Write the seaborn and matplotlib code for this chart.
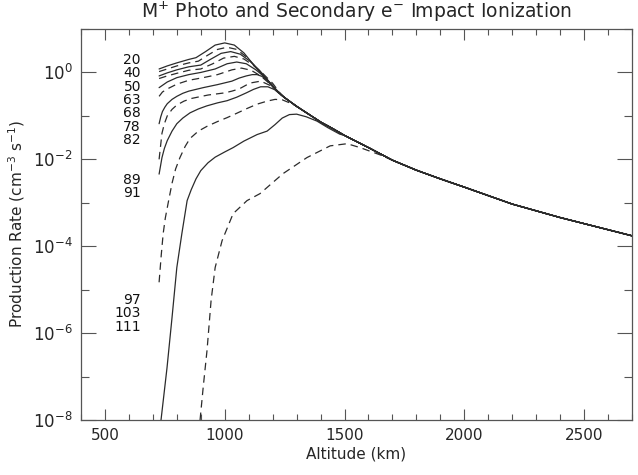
import numpy as np
import matplotlib
matplotlib.use("Agg")
import matplotlib.pyplot as plt
import matplotlib.ticker as mticker
import seaborn as sns

# ---- data (altitude in km, production rate in cm^-3 s^-1, stored as log10) ----
sza_labels = ["20", "40", "50", "63", "68", "78", "82", "89", "91", "97", "103", "111"]
styles = ["-", "--", "-", "--", "-", "--", "-", "--", "-", "--", "-", "--"]

# common high-altitude part (all curves merge)
tail_alt = [1250, 1300, 1350, 1400, 1450, 1500, 1600, 1700, 1800, 1900, 2000, 2200, 2400, 2600, 2700]
tail_log = [-0.58, -0.78, -0.96, -1.14, -1.29, -1.45, -1.73, -2.02, -2.25, -2.45, -2.64, -3.03, -3.34, -3.62, -3.76]

alt_20 = [726, 760, 800, 850, 880, 920, 960, 1000, 1040, 1080, 1120, 1160, 1200]
log_20 = [0.08, 0.15, 0.22, 0.30, 0.34, 0.48, 0.63, 0.68, 0.63, 0.45, 0.18, -0.08, -0.33]
alt_40 = [726, 760, 800, 850, 890, 930, 970, 1010, 1050, 1090, 1130, 1170, 1200]
log_40 = [0.02, 0.08, 0.15, 0.22, 0.26, 0.40, 0.53, 0.58, 0.53, 0.36, 0.12, -0.12, -0.33]
alt_50 = [726, 760, 800, 850, 900, 940, 985, 1025, 1065, 1105, 1145, 1180, 1210]
log_50 = [-0.08, -0.01, 0.06, 0.13, 0.17, 0.30, 0.44, 0.48, 0.42, 0.26, 0.05, -0.18, -0.38]
alt_63 = [726, 760, 800, 850, 900, 950, 995, 1040, 1080, 1120, 1160, 1200, 1230]
log_63 = [-0.14, -0.08, -0.02, 0.05, 0.08, 0.20, 0.33, 0.37, 0.31, 0.16, -0.03, -0.25, -0.47]
alt_68 = [726, 760, 800, 850, 900, 960, 1010, 1050, 1090, 1130, 1170, 1210, 1235]
log_68 = [-0.35, -0.22, -0.12, -0.05, 0.0, 0.08, 0.20, 0.24, 0.20, 0.06, -0.12, -0.36, -0.52]
alt_78 = [726, 740, 760, 800, 850, 910, 970, 1030, 1070, 1110, 1150, 1190, 1225]
log_78 = [-0.55, -0.45, -0.38, -0.27, -0.18, -0.12, -0.05, 0.06, 0.10, 0.05, -0.08, -0.27, -0.47]
alt_82 = [726, 733, 740, 750, 760, 780, 800, 825, 850, 910, 970, 1030, 1060, 1090, 1115, 1135, 1155, 1175, 1195, 1215]
log_82 = [-1.18, -1.02, -0.90, -0.80, -0.72, -0.62, -0.55, -0.48, -0.43, -0.35, -0.28, -0.20, -0.13, -0.08, -0.05, -0.05, -0.09, -0.17, -0.28, -0.42]
alt_89 = [726, 732, 738, 748, 760, 780, 800, 830, 860, 930, 1000, 1030, 1060, 1090, 1110, 1150, 1190, 1225]
log_89 = [-2.0, -1.7, -1.4, -1.18, -1.0, -0.85, -0.75, -0.66, -0.60, -0.52, -0.47, -0.43, -0.38, -0.29, -0.24, -0.20, -0.30, -0.47]
alt_91 = [726, 732, 738, 748, 760, 780, 800, 825, 855, 890, 925, 970, 1010, 1050, 1090, 1120, 1150, 1180, 1210, 1235]
log_91 = [-2.34, -2.15, -1.96, -1.75, -1.57, -1.35, -1.18, -1.05, -0.93, -0.84, -0.77, -0.70, -0.65, -0.57, -0.47, -0.39, -0.33, -0.33, -0.40, -0.52]
alt_97 = [726, 735, 743, 752, 764, 780, 795, 813, 835, 855, 890, 926, 970, 1010, 1050, 1093, 1135, 1177, 1210, 1240, 1280]
log_97 = [-4.83, -4.2, -3.71, -3.35, -3.0, -2.55, -2.22, -1.96, -1.70, -1.52, -1.35, -1.24, -1.13, -1.04, -0.94, -0.83, -0.73, -0.66, -0.62, -0.63, -0.72]
alt_103 = [734, 759, 780, 800, 821, 843, 860, 880, 900, 930, 960, 1000, 1035, 1080, 1135, 1177, 1210, 1240, 1270, 1300, 1340, 1385, 1430, 1480]
log_103 = [-8.0, -6.8, -5.64, -4.49, -3.71, -2.95, -2.70, -2.45, -2.26, -2.08, -1.95, -1.83, -1.73, -1.58, -1.43, -1.35, -1.20, -1.05, -0.97, -0.96, -1.02, -1.12, -1.27, -1.42]
alt_111 = [897, 910, 926, 943, 960, 989, 1035, 1093, 1147, 1243, 1343, 1440, 1511, 1565, 1650]
log_111 = [-8.0, -7.25, -6.4, -5.25, -4.49, -3.87, -3.25, -2.95, -2.79, -2.33, -1.96, -1.69, -1.64, -1.73, -1.90]

heads = [(alt_20, log_20), (alt_40, log_40), (alt_50, log_50), (alt_63, log_63),
         (alt_68, log_68), (alt_78, log_78), (alt_82, log_82), (alt_89, log_89),
         (alt_91, log_91), (alt_97, log_97), (alt_103, log_103), (alt_111, log_111)]

# label positions (pixel rows in the figure) for the zenith-angle labels
label_rows = [60, 73, 87, 100, 113, 127, 140, 180, 193, 300, 313, 327]

# ---- figure ----
W, H = 638, 475
sns.set_theme(style="ticks")
plt.rcParams["font.family"] = ["DejaVu Sans"]
fig = plt.figure(figsize=(W / 100, H / 100), dpi=100)
L, R, T, B = 81, 632, 29, 420
ax = fig.add_axes([L / W, 1 - B / H, (R - L) / W, (B - T) / H])

line_color = "#2b2b2b"
for (a, lg), ls in zip(heads, styles):
    last = a[-1]
    xs = list(a) + [t for t in tail_alt if t > last]
    ys = list(lg) + [v for t, v in zip(tail_alt, tail_log) if t > last]
    rate = 10.0 ** np.array(ys)
    sns.lineplot(x=xs, y=rate, ax=ax, color=line_color, lw=0.9,
                 estimator=None, sort=False)
    if ls == "--":
        ax.lines[-1].set_dashes((6, 4))

ax.set_yscale("log")
ax.set_xlim(400, 2700)
ax.set_ylim(1e-8, 10)

ax.xaxis.set_major_locator(mticker.MultipleLocator(500))
ax.xaxis.set_minor_locator(mticker.MultipleLocator(100))
ax.yaxis.set_major_locator(mticker.FixedLocator([1e-8, 1e-6, 1e-4, 1e-2, 1e0]))
ax.yaxis.set_minor_locator(mticker.FixedLocator([1e-7, 1e-5, 1e-3, 1e-1, 1e1]))
ax.yaxis.set_minor_formatter(mticker.NullFormatter())
ax.yaxis.set_major_formatter(mticker.FuncFormatter(lambda v, p: r"$10^{%d}$" % round(np.log10(v))))

ax.tick_params(which="both", direction="in", top=True, right=True, color="#555555", width=0.8)
ax.tick_params(axis="x", which="major", length=8, labelsize=11, pad=6)
ax.tick_params(axis="x", which="minor", length=4)
ax.tick_params(axis="y", which="major", length=11, labelsize=12, pad=6)
ax.tick_params(axis="y", which="minor", length=6)
for s in ax.spines.values():
    s.set_color("#555555")
    s.set_linewidth(0.9)

ax.set_xlabel("Altitude (km)", fontsize=11, labelpad=2)
ax.set_ylabel(r"Production Rate (cm$^{-3}$ s$^{-1}$)", fontsize=11, labelpad=4)
ax.set_title(r"M$^{+}$ Photo and Secondary e$^{-}$ Impact Ionization", fontsize=13.5, pad=8)

for lab, row in zip(sza_labels, label_rows):
    fig.text(141 / W, 1 - row / H, lab, ha="right", va="center", fontsize=10, color="#111111")

fig.savefig("out.png", dpi=100)
